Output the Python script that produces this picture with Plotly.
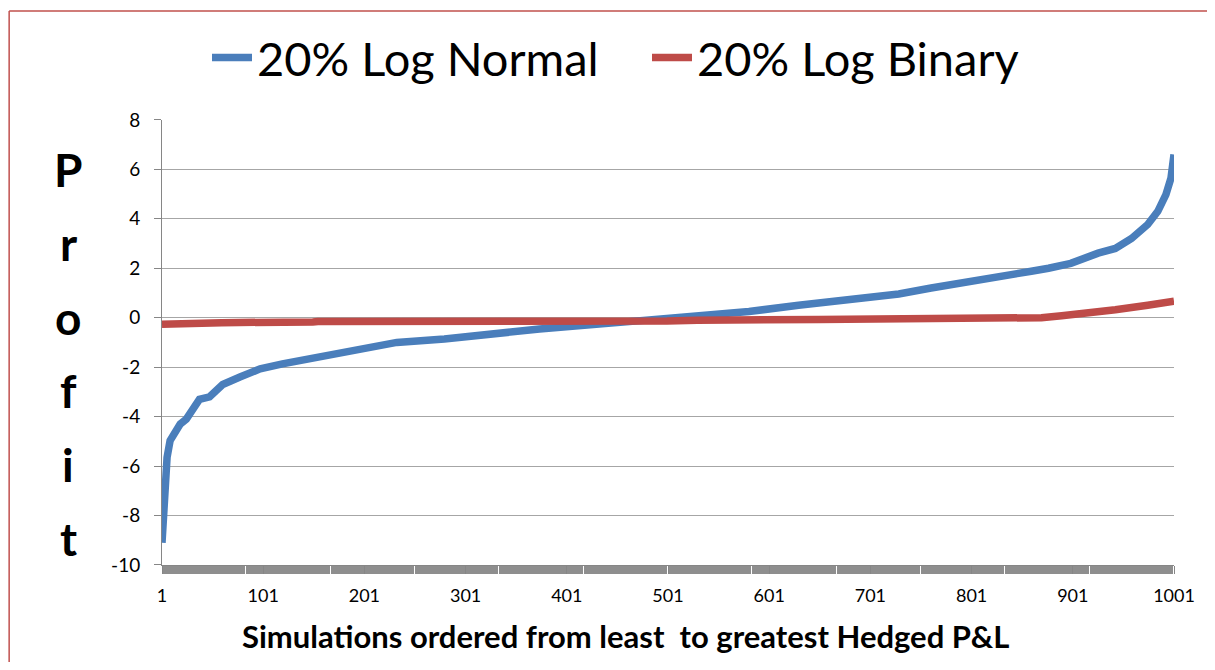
import plotly.graph_objects as go

# simulation index (sorted from least to greatest hedged P&L) and profit
normal_sim = [1, 4, 6, 9, 15, 19, 25, 32, 38, 48, 61, 78, 98, 120, 154, 170, 203, 233,
              280, 334, 374, 433, 477, 531, 581, 630, 680, 729, 761, 795, 827, 860,
              877, 899, 926, 943, 959, 975, 985, 993, 998, 1001]
normal_pnl = [-9.1, -7.3, -5.65, -4.97, -4.57, -4.3, -4.1, -3.6, -3.3, -3.2, -2.7, -2.4,
              -2.07, -1.87, -1.6, -1.45, -1.2, -1.0, -0.86, -0.62, -0.46, -0.26, -0.13,
              0.08, 0.25, 0.5, 0.72, 0.96, 1.2, 1.41, 1.68, 1.88, 2.0, 2.2, 2.61, 2.8,
              3.2, 3.77, 4.3, 4.98, 5.64, 6.6]

binary_sim = [1, 60, 150, 155, 500, 530, 650, 830, 870, 890, 900, 920, 943, 975, 1001]
binary_pnl = [-0.27, -0.2, -0.17, -0.15, -0.13, -0.1, -0.07, -0.04, 0.0, 0.08, 0.12,
              0.22, 0.32, 0.5, 0.67]

x_ticks = [1, 101, 201, 301, 401, 501, 601, 701, 801, 901, 1001]
y_ticks = [-10, -8, -6, -4, -2, 0, 2, 4, 6, 8]
y_labels = ["-10", "-8", "-6", "-4", "-2", "0", "2", "4", "6", "8"]

# page body has an 8px margin, so the figure sits 8px in from the window edge
OFF = 8
W, H = 1215 - 2 * OFF, 670 - 2 * OFF
# plot area in window pixels
L, R, T, B = 162, 1177, 118, 565
AXIS_GREY = "#868686"
FONT = "Lato"


def px(x):
    return (x - L) / (R - L)


def py(y):
    return (B - y) / (B - T)


fig = go.Figure()
fig.add_trace(go.Scatter(x=normal_sim, y=normal_pnl, mode="lines", name="20% Log Normal",
                         line=dict(color="#4A7EBB", width=7.5)))
fig.add_trace(go.Scatter(x=binary_sim, y=binary_pnl, mode="lines", name="20% Log Binary",
                         line=dict(color="#BE4B48", width=7.5)))

fig.update_layout(
    width=W, height=H,
    margin=dict(l=L - OFF, r=W - (R - OFF), t=T - OFF, b=H - (B - OFF)),
    plot_bgcolor="white", paper_bgcolor="white",
    font=dict(family=FONT, color="black"),
    legend=dict(orientation="h", xref="container", yref="container",
                x=(207 - OFF) / W, xanchor="left", y=1 - (58 - OFF) / H, yanchor="middle",
                font=dict(size=47), itemwidth=40, entrywidth=385),
    showlegend=True,
)

fig.update_xaxes(
    range=[1, 1001], tickvals=x_ticks, ticks="outside", ticklen=8, tickcolor=AXIS_GREY,
    showline=True, linecolor=AXIS_GREY, linewidth=1, showgrid=False, zeroline=False,
    tickfont=dict(size=18), ticklabelstandoff=6,
    minor=dict(dtick=1, tick0=1, ticks="outside", ticklen=8, tickcolor="#8E8E8E", showgrid=False),
)
fig.update_yaxes(
    range=[-10, 8], tickvals=y_ticks, ticktext=y_labels, ticks="outside", ticklen=7,
    tickcolor=AXIS_GREY, showline=True, linecolor=AXIS_GREY, linewidth=1,
    gridcolor="#A6A6A6", gridwidth=1, zeroline=False, tickfont=dict(size=19),
    ticklabelstandoff=10,
)

# x-axis title
fig.add_annotation(text="<b>Simulations ordered from least \u00a0to greatest Hedged P&L</b>",
                   xref="paper", yref="paper", x=px(627), y=py(636), showarrow=False,
                   font=dict(size=31), xanchor="center", yanchor="middle")

# vertical "Profit" label, one letter per row
for i, ch in enumerate("Profit"):
    fig.add_annotation(text=f"<b>{ch}</b>", xref="paper", yref="paper",
                       x=px(68), y=py(168 + i * 74), showarrow=False,
                       font=dict(size=46), xanchor="center", yanchor="middle")

# chart border (top and left edges visible)
fig.add_shape(type="line", xref="paper", yref="paper", x0=px(8.7), x1=px(1230), y0=py(8.7), y1=py(8.7),
              line=dict(color="#C0504D", width=1.5))
fig.add_shape(type="line", xref="paper", yref="paper", x0=px(8.7), x1=px(8.7), y0=py(8.7), y1=py(700),
              line=dict(color="#C0504D", width=1.5))

fig.write_html("out.html")
